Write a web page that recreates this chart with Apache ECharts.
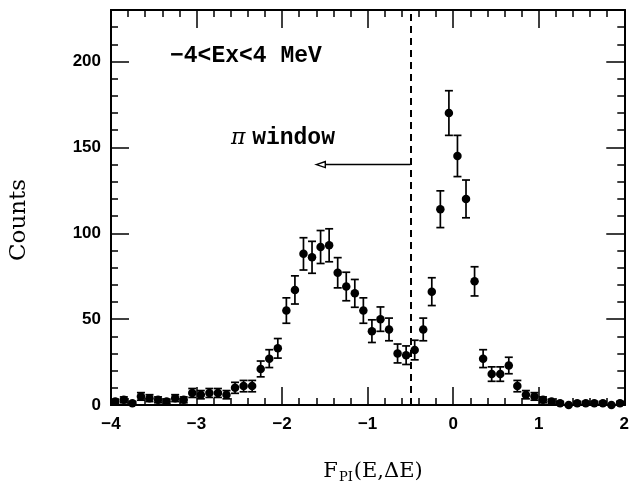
<!DOCTYPE html>
<html>
<head>
<meta charset="utf-8">
<script src="https://cdn.jsdelivr.net/npm/echarts@6/dist/echarts.min.js"></script>
<style>
html, body { margin: 0; padding: 0; background: #fff; }
#chart { width: 632px; height: 491px; }
</style>
</head>
<body>
<div id="chart"></div>
<script>
// bin centres of F_PI(E,dE), bin width 0.1
const binCenters = [
    -3.95, -3.85, -3.75, -3.65, -3.55, -3.45, -3.35, -3.25, -3.15, -3.05,
    -2.95, -2.85, -2.75, -2.65, -2.55, -2.45, -2.35, -2.25, -2.15, -2.05,
    -1.95, -1.85, -1.75, -1.65, -1.55, -1.45, -1.35, -1.25, -1.15, -1.05,
    -0.95, -0.85, -0.75, -0.65, -0.55, -0.45, -0.35, -0.25, -0.15, -0.05,
    0.05, 0.15, 0.25, 0.35, 0.45, 0.55, 0.65, 0.75, 0.85, 0.95,
    1.05, 1.15, 1.25, 1.35, 1.45, 1.55, 1.65, 1.75, 1.85, 1.95
];
const counts = [
    2, 3, 1, 5, 4, 3, 2, 4, 3, 7,
    6, 7, 7, 6, 10, 11, 11, 21, 27, 33,
    55, 67, 88, 86, 92, 93, 77, 69, 65, 55,
    43, 50, 44, 30, 29, 32, 44, 66, 114, 170,
    145, 120, 72, 27, 18, 18, 23, 11, 6, 5,
    3, 2, 1, 0, 1, 1, 1, 1, 0, 1
];
// statistical error bars
const errors = [
    1.4, 1.7, 1.0, 2.2, 2.0, 1.7, 1.4, 2.0, 1.7, 2.6,
    2.4, 2.6, 2.6, 2.4, 3.2, 3.3, 3.3, 4.6, 5.2, 5.7,
    7.4, 8.2, 9.4, 9.3, 9.6, 9.6, 8.8, 8.3, 8.1, 7.4,
    6.6, 7.1, 6.6, 5.5, 5.4, 5.7, 6.6, 8.1, 10.7, 13.0,
    12.0, 11.0, 8.5, 5.2, 4.2, 4.2, 4.8, 3.3, 2.4, 2.2,
    1.7, 1.4, 1.0, 0, 1.0, 1.0, 1.0, 1.0, 0, 1.0
];
const xRange = [-4, 2];
const yRange = [0, 230];
const yLabelStep = 50;
const yMinorStep = 10;
const cutValue = -0.5;          // pi window cut
const arrowY = 140;
const arrowEnd = -1.6;
const titleText = '\u22124<Ex<4 MeV';

const chart = echarts.init(document.getElementById('chart'));

const pts = binCenters.map((x, i) => [x, counts[i]]);
const bars = binCenters.map((x, i) => [x, counts[i] - errors[i], counts[i] + errors[i]]);

const tickFont = { color: '#000', fontFamily: 'Liberation Sans', fontWeight: 'bold', fontSize: 17 };

function xAxisDef(pos, labels) {
    return {
        type: 'value',
        position: pos,
        min: xRange[0],
        max: xRange[1],
        interval: 1,
        axisLine: { show: true, onZero: false, lineStyle: { color: '#000', width: 2 } },
        axisTick: { show: true, inside: true, length: 18, lineStyle: { color: '#000', width: 1.5 } },
        minorTick: { show: true, splitNumber: 5, length: 7, lineStyle: { color: '#000', width: 1.5 } },
        axisLabel: Object.assign({
            show: labels,
            margin: 11,
            formatter: v => String(v).replace('-', '\u2212')
        }, tickFont),
        splitLine: { show: false }
    };
}

function yAxisDef(pos, step, len, labels) {
    return {
        type: 'value',
        position: pos,
        min: yRange[0],
        max: yRange[1],
        interval: step,
        axisLine: { show: true, onZero: false, lineStyle: { color: '#000', width: 2 } },
        axisTick: { show: true, inside: true, length: len, lineStyle: { color: '#000', width: 1.5 } },
        axisLabel: Object.assign({
            show: labels,
            margin: 10,
            formatter: v => (v % yLabelStep === 0 ? String(v) : '')
        }, tickFont),
        splitLine: { show: false }
    };
}

const option = {
    backgroundColor: '#fff',
    animation: false,
    grid: { left: 111, right: 4, top: 10, bottom: 86 },
    xAxis: [xAxisDef('bottom', true), xAxisDef('top', false)],
    yAxis: [
        yAxisDef('left', yLabelStep, 18, true),
        yAxisDef('left', yMinorStep, 7, false),
        yAxisDef('right', yLabelStep, 18, false),
        yAxisDef('right', yMinorStep, 7, false)
    ],
    graphic: [
        {
            type: 'text', left: 170, top: 45,
            style: { text: titleText, font: 'bold 23px "Liberation Mono"', fill: '#000' }
        },
        {
            type: 'text', left: 231, top: 127,
            style: {
                text: '{p|\u03c0}  {w|window}',
                rich: {
                    p: { font: 'italic 22px "DejaVu Serif"', fill: '#000' },
                    w: { font: 'bold 23px "Liberation Mono"', fill: '#000' }
                }
            }
        },
        {
            type: 'text', x: 19, y: 220, rotation: Math.PI / 2,
            style: {
                text: 'Counts', font: '23px "DejaVu Serif"', fill: '#000',
                align: 'center', verticalAlign: 'middle'
            }
        },
        {
            type: 'text', x: 373, y: 472,
            style: {
                text: '{f|F}{s|PI}{f|(E,\u0394E)}',
                align: 'center', verticalAlign: 'middle',
                rich: {
                    f: { font: '21px "DejaVu Serif"', fill: '#000' },
                    s: { font: '13px "DejaVu Serif"', fill: '#000', padding: [12, 1, 0, 1] }
                }
            }
        }
    ],
    series: [
        {
            type: 'custom',
            name: 'errors',
            data: bars,
            encode: { x: 0, y: [1, 2] },
            renderItem: (params, api) => {
                const x = api.value(0);
                const lo = api.coord([x, api.value(1)]);
                const hi = api.coord([x, api.value(2)]);
                const w = 4;
                const st = { stroke: '#000', lineWidth: 1.7 };
                return {
                    type: 'group',
                    children: [
                        { type: 'line', shape: { x1: lo[0], y1: lo[1], x2: hi[0], y2: hi[1] }, style: st },
                        { type: 'line', shape: { x1: lo[0] - w, y1: lo[1], x2: lo[0] + w, y2: lo[1] }, style: st },
                        { type: 'line', shape: { x1: hi[0] - w, y1: hi[1], x2: hi[0] + w, y2: hi[1] }, style: st }
                    ]
                };
            },
            z: 2
        },
        {
            type: 'scatter',
            name: 'counts',
            data: pts,
            symbol: 'circle',
            symbolSize: 8.5,
            itemStyle: { color: '#000', opacity: 1 },
            z: 3,
            markLine: {
                silent: true,
                symbol: 'none',
                label: { show: false },
                lineStyle: { color: '#000', width: 2, type: [7, 5] },
                data: [{ xAxis: cutValue }]
            }
        },
        {
            type: 'custom',
            name: 'arrow',
            data: [[cutValue, arrowY, arrowEnd]],
            renderItem: (params, api) => {
                const a = api.coord([api.value(0), api.value(1)]);
                const b = api.coord([api.value(2), api.value(1)]);
                const st = { stroke: '#000', lineWidth: 1.5, fill: null };
                return {
                    type: 'group',
                    children: [
                        { type: 'line', shape: { x1: a[0], y1: a[1], x2: b[0] + 9, y2: b[1] }, style: st },
                        {
                            type: 'polygon',
                            shape: { points: [[b[0], b[1]], [b[0] + 9, b[1] - 3], [b[0] + 9, b[1] + 3]] },
                            style: { stroke: '#000', lineWidth: 1.4, fill: '#fff' }
                        }
                    ]
                };
            },
            z: 4
        }
    ]
};

chart.setOption(option);
</script>
</body>
</html>
